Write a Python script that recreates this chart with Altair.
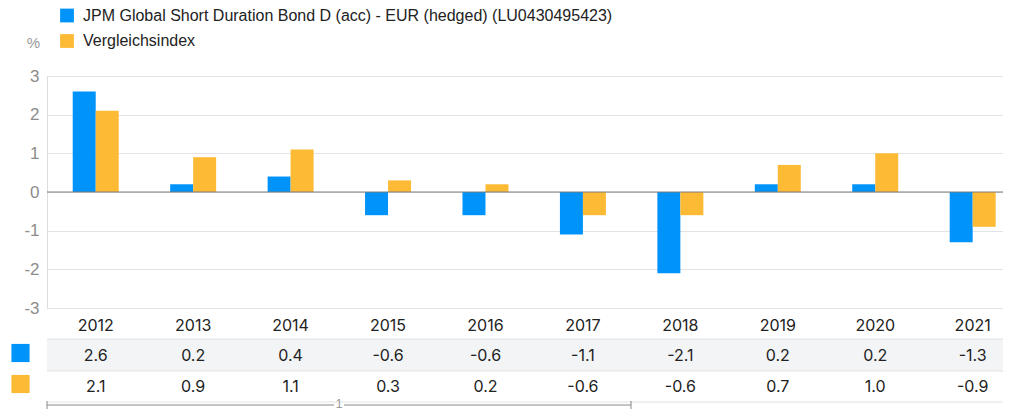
import altair as alt
import pandas as pd

years = ["2012", "2013", "2014", "2015", "2016", "2017", "2018", "2019", "2020", "2021"]
fund_values = [2.6, 0.2, 0.4, -0.6, -0.6, -1.1, -2.1, 0.2, 0.2, -1.3]
index_values = [2.1, 0.9, 1.1, 0.3, 0.2, -0.6, -0.6, 0.7, 1.0, -0.9]
series_names = ["JPM Global Short Duration Bond D (acc) - EUR (hedged) (LU0430495423)", "Vergleichsindex"]
series_colors = ["#0093FA", "#FDBA35"]
y_ticks = [-3, -2, -1, 0, 1, 2, 3]
unit_label = "%"
pager_label = "1"

rows = []
for yr, f, i in zip(years, fund_values, index_values):
    rows.append({"year": yr, "series": series_names[0], "value": f, "label": f"{f:.1f}"})
    rows.append({"year": yr, "series": series_names[1], "value": i, "label": f"{i:.1f}"})
df = pd.DataFrame(rows)

W = 956
H = 232
FONT = "Liberation Sans"
NUMFONT = "Inter"

x_scale = alt.Scale(type="band", domain=years, range=[0, 974.4], paddingInner=0.528, paddingOuter=0.264)
X = alt.X("year:N", scale=x_scale, sort=years,
          axis=alt.Axis(title=None, labelAngle=0, domain=False, ticks=False, grid=False,
                        labelPadding=9, labelFontSize=16, labelColor="#222222", labelFont=NUMFONT,
                        labelFontWeight="normal"))
Y = alt.Y("value:Q", scale=alt.Scale(domain=[-3, 3], nice=False, zero=False),
          axis=alt.Axis(values=y_ticks, title=None, domain=False, ticks=False, labelPadding=8,
                        labelFontSize=17, labelColor="#8c8c8c", labelFont=FONT, gridColor="#e3e3e3",
                        labelOverlap=False, labelFlush=False, labelBaseline="middle",
                        labelExpr="'' + datum.value"))

bars = alt.Chart(df).mark_bar().encode(
    x=X,
    xOffset=alt.XOffset("series:N", sort=series_names, scale=alt.Scale(domain=series_names, paddingInner=0, paddingOuter=0)),
    y=Y,
    color=alt.Color("series:N", scale=alt.Scale(domain=series_names, range=series_colors), legend=None),
)

zero = alt.Chart(pd.DataFrame({"value": [0]})).mark_rule(color="#7a7a7a", strokeWidth=1).encode(y=Y)

one = pd.DataFrame({"a": [0]})
row_bg = alt.Chart(one).mark_rect(color="#F3F4F6").encode(
    x=alt.value(0), x2=alt.value(W), y=alt.value(263), y2=alt.value(295))
lines = [alt.Chart(one).mark_rule(color="#e2e2e2", strokeWidth=1).encode(
    x=alt.value(0), x2=alt.value(W), y=alt.value(v)) for v in (263, 295, 326)]

row_y = [279.5, 310.5]
sq_y = [277, 308]
table_layers = []
for i, name in enumerate(series_names):
    table_layers.append(
        alt.Chart(df[df.series == name]).mark_text(fontSize=16, font=NUMFONT, color="#222222", baseline="middle").encode(
            x=X, y=alt.value(row_y[i]), text="label:N"))
    table_layers.append(
        alt.Chart(one).mark_square(size=330, opacity=1, color=series_colors[i]).encode(
            x=alt.value(-26.5), y=alt.value(sq_y[i])))

legend_layers = []
leg_y = [-60.5, -35]
for i, name in enumerate(series_names):
    legend_layers.append(
        alt.Chart(one).mark_square(size=190, opacity=1, color=series_colors[i]).encode(
            x=alt.value(20), y=alt.value(leg_y[i])))
    legend_layers.append(
        alt.Chart(pd.DataFrame({"t": [name]})).mark_text(fontSize=16, font=FONT, color="#222222", align="left", baseline="middle").encode(
            x=alt.value(36), y=alt.value(leg_y[i]), text="t:N"))

unit = alt.Chart(pd.DataFrame({"t": [unit_label]})).mark_text(fontSize=15, font=FONT, color="#999999", align="right", baseline="middle").encode(
    x=alt.value(-7), y=alt.value(-33), text="t:N")

PY = 329
pager = [
    alt.Chart(one).mark_rule(color="#888888").encode(x=alt.value(0), x2=alt.value(287), y=alt.value(PY)),
    alt.Chart(one).mark_rule(color="#888888").encode(x=alt.value(297), x2=alt.value(584), y=alt.value(PY)),
    alt.Chart(one).mark_rule(color="#888888").encode(x=alt.value(0), y=alt.value(PY - 4), y2=alt.value(PY + 4)),
    alt.Chart(one).mark_rule(color="#888888").encode(x=alt.value(584), y=alt.value(PY - 4), y2=alt.value(PY + 4)),
    alt.Chart(pd.DataFrame({"t": [pager_label]})).mark_text(fontSize=12, font=FONT, color="#999999", baseline="middle").encode(
        x=alt.value(292), y=alt.value(PY - 1), text="t:N"),
]

chart = alt.layer(row_bg, *lines, bars, zero, *table_layers, *legend_layers, unit, *pager).properties(
    width=W, height=H,
    autosize=alt.AutoSizeParams(type="none"),
    padding={"left": 39, "top": 68, "right": 0, "bottom": 103},
).configure_view(stroke=None, fill="#F3F4F6").configure(background="white")

chart.save("out.html", embed_options={"renderer": "svg", "actions": False})
